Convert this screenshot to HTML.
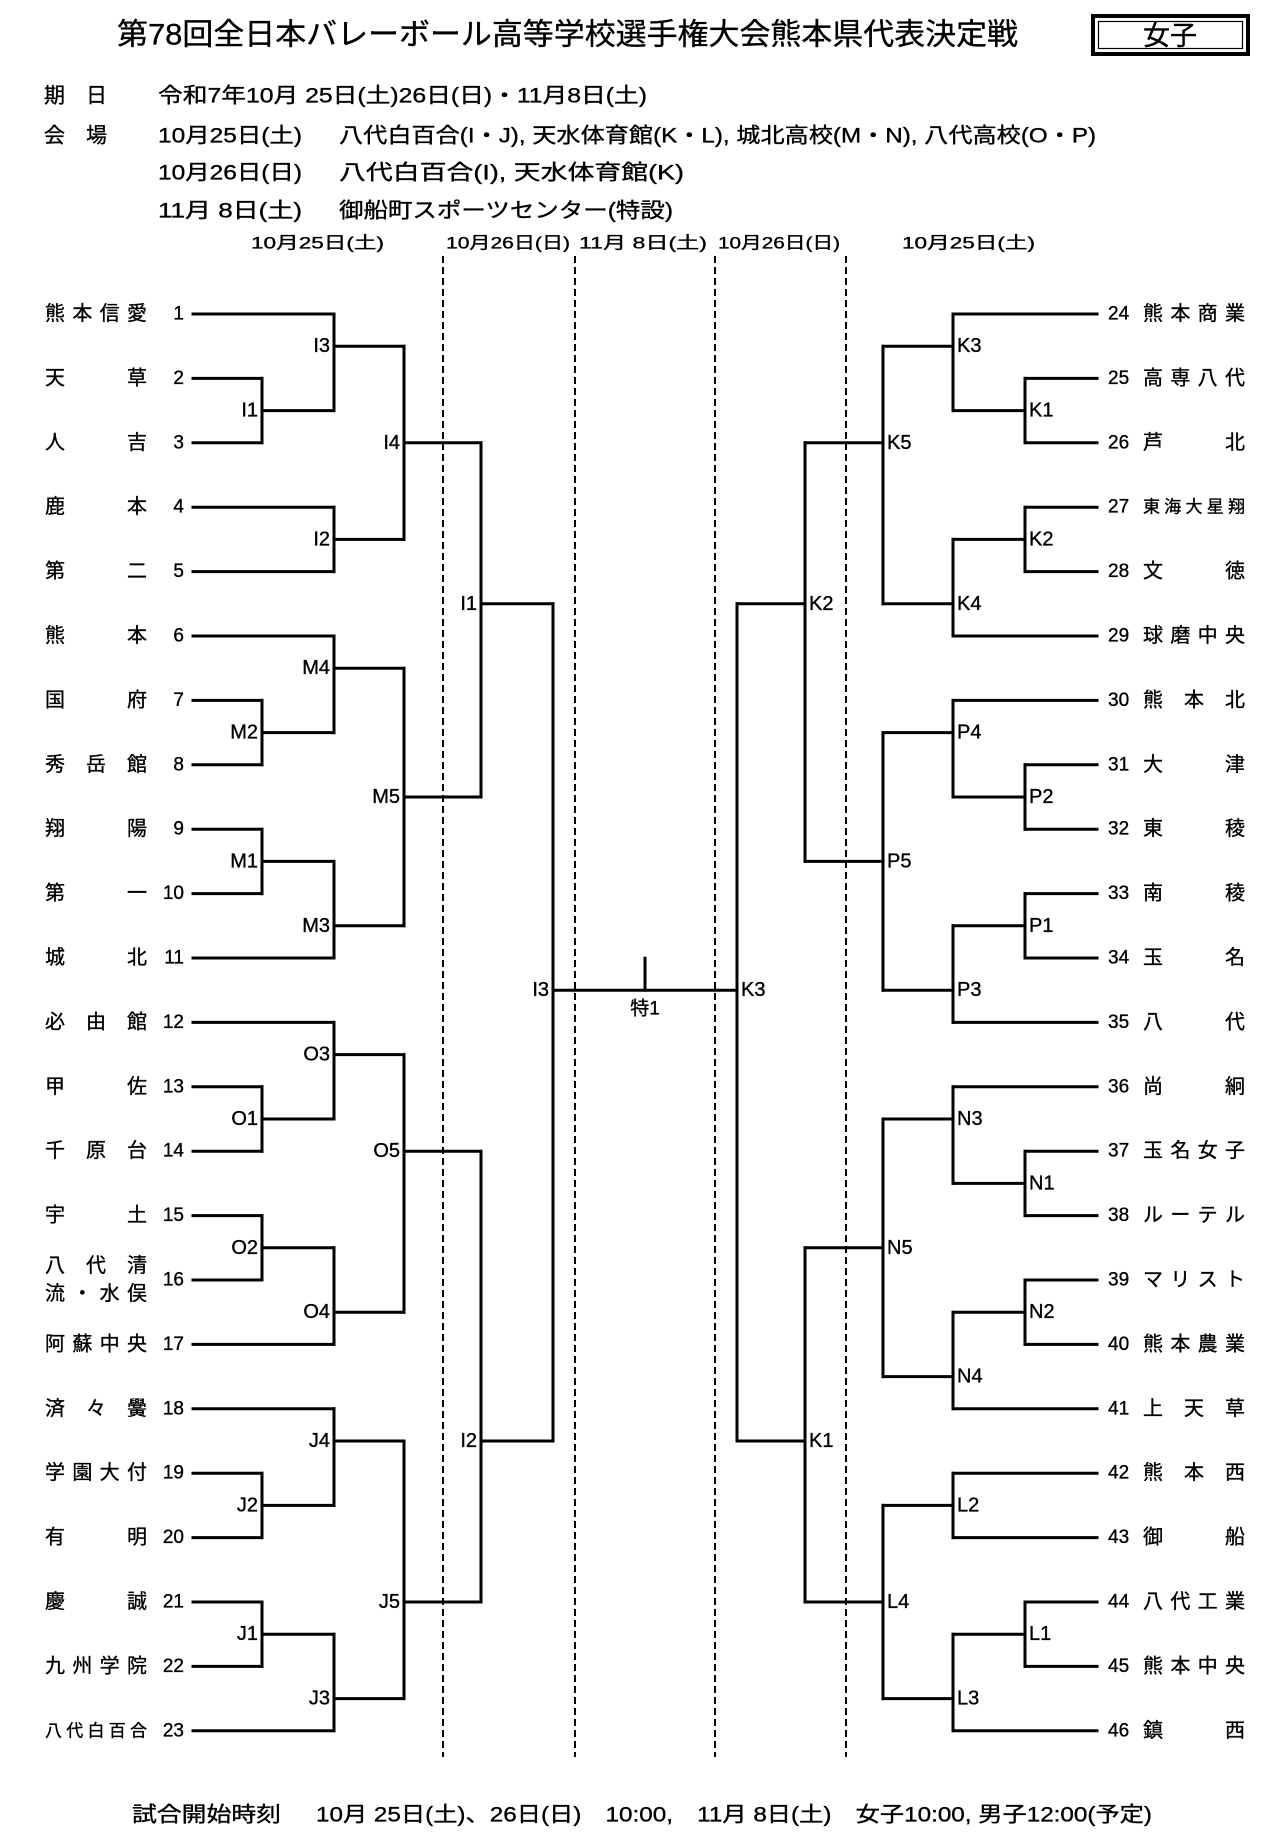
<!DOCTYPE html>
<html><head><meta charset="utf-8">
<style>
html,body{margin:0;padding:0;background:#fff;}
svg{display:block;}
text{font-family:"Liberation Sans","Noto Sans CJK JP",sans-serif;fill:#000;stroke:#000;stroke-width:0.35px;}
</style></head>
<body>
<svg id="s" width="1287" height="1842" viewBox="0 0 1287 1842" xmlns="http://www.w3.org/2000/svg">
<text x="117" y="35" font-size="30" dominant-baseline="central" textLength="901" lengthAdjust="spacingAndGlyphs">第78回全日本バレーボール高等学校選手権大会熊本県代表決定戦</text>
<rect x="1093" y="16" width="155" height="38" fill="none" stroke="#000" stroke-width="4"/>
<rect x="1098.5" y="21.5" width="144" height="27" fill="none" stroke="#000" stroke-width="1.2"/>
<text x="1170" y="36" font-size="27" text-anchor="middle" dominant-baseline="central">女子</text>

<text x="44" y="96" font-size="21" dominant-baseline="central">期　日</text>
<text x="158" y="96" font-size="21" dominant-baseline="central" textLength="489" lengthAdjust="spacingAndGlyphs">令和7年10月 25日(土)26日(日)・11月8日(土)</text>
<text x="44" y="136" font-size="21" dominant-baseline="central">会　場</text>
<text x="158" y="136" font-size="21" dominant-baseline="central" textLength="144" lengthAdjust="spacingAndGlyphs">10月25日(土)</text>
<text x="339" y="136" font-size="21" dominant-baseline="central" textLength="757" lengthAdjust="spacingAndGlyphs">八代白百合(I・J), 天水体育館(K・L), 城北高校(M・N), 八代高校(O・P)</text>
<text x="158" y="173" font-size="21" dominant-baseline="central" textLength="144" lengthAdjust="spacingAndGlyphs">10月26日(日)</text>
<text x="339" y="173" font-size="21" dominant-baseline="central" textLength="345" lengthAdjust="spacingAndGlyphs">八代白百合(I), 天水体育館(K)</text>
<text x="158" y="211" font-size="21" dominant-baseline="central" textLength="144" lengthAdjust="spacingAndGlyphs">11月 8日(土)</text>
<text x="339" y="211" font-size="21" dominant-baseline="central" textLength="334" lengthAdjust="spacingAndGlyphs">御船町スポーツセンター(特設)</text>

<text x="251" y="243" font-size="17" dominant-baseline="central" textLength="133" lengthAdjust="spacingAndGlyphs">10月25日(土)</text>
<text x="446" y="243" font-size="17" dominant-baseline="central" textLength="124" lengthAdjust="spacingAndGlyphs">10月26日(日)</text>
<text x="579" y="243" font-size="17" dominant-baseline="central" textLength="128" lengthAdjust="spacingAndGlyphs">11月 8日(土)</text>
<text x="718" y="243" font-size="17" dominant-baseline="central" textLength="122" lengthAdjust="spacingAndGlyphs">10月26日(日)</text>
<text x="902" y="243" font-size="17" dominant-baseline="central" textLength="133" lengthAdjust="spacingAndGlyphs">10月25日(土)</text>

<text x="132" y="1815" font-size="21" dominant-baseline="central" textLength="149" lengthAdjust="spacingAndGlyphs">試合開始時刻</text>
<text x="316" y="1815" font-size="21" dominant-baseline="central" textLength="836" lengthAdjust="spacingAndGlyphs">10月 25日(土)、26日(日)　10:00,　11月 8日(土)　女子10:00, 男子12:00(予定)</text>
<g id="g"></g>
</svg>
<script>
(function(){
var NS="http://www.w3.org/2000/svg",g=document.getElementById("g");
function Y(r){return 314+(r-1)*64.4;}
function el(n,a,t){var e=document.createElementNS(NS,n);for(var k in a)e.setAttribute(k,a[k]);if(t!=null)e.textContent=t;g.appendChild(e);return e;}
function line(x1,y1,x2,y2){el("line",{x1:x1,y1:y1,x2:x2,y2:y2,stroke:"#000","stroke-width":3,"stroke-linecap":"square"});}
function txt(x,y,s,fs,anchor){return el("text",{x:x,y:y,"font-size":fs,"text-anchor":anchor||"start","dominant-baseline":"central"},s);}
function name(x0,W,y,s,fs){var c=Array.from(s),n=c.length;
 if(n==1){txt(x0,y,s,fs);return;}
 var step=(W-fs)/(n-1);if(step<fs)step=fs;
 for(var i=0;i<n;i++)txt(x0+i*step,y,c[i],fs);}
[443,575,715,846].forEach(function(x){el("line",{x1:x,y1:256,x2:x,y2:1757,stroke:"#000","stroke-width":2,"stroke-dasharray":"7,4"});});
var L=[193,262,334,404,481,553],R=[737,805,883,953,1025,1097];
var left=["熊本信愛","天草","人吉","鹿本","第二","熊本","国府","秀岳館","翔陽","第一","城北","必由館","甲佐","千原台","宇土","","阿蘇中央","済々黌","学園大付","有明","慶誠","九州学院","八代白百合"];
var right=["熊本商業","高専八代","芦北","東海大星翔","文徳","球磨中央","熊本北","大津","東稜","南稜","玉名","八代","尚絅","玉名女子","ルーテル","マリスト","熊本農業","上天草","熊本西","御船","八代工業","熊本中央","鎮西"];
var lv=[2,1,1,2,2,2,1,1,1,1,2,2,1,1,1,1,2,2,1,1,1,1,2];
var rv=[2,1,1,1,1,2,2,1,1,1,1,2,2,1,1,1,1,2,2,2,1,1,2];
for(var i=0;i<23;i++){var y=Y(i+1);
 txt(184,y,String(i+1),19,"end");
 line(L[0],y,L[lv[i]],y);
 var s=left[i];
 if(i==15){name(45,102,y-14,"八代清",20);name(45,102,y+14,"流・水俣",20);}
 else if(s=="八代白百合")name(45,102,y,s,17);
 else name(45,102,y,s,20);
 txt(1108,y,String(i+24),19,"start");
 line(R[5],y,R[5-rv[i]],y);
 var t=right[i];
 if(t=="東海大星翔")name(1143,102,y,t,17);else name(1143,102,y,t,20);
}
var LM=[["I1",1,2,3,2.5,2],["I3",2,1,2.5,1.5,3],["I2",2,4,5,4.5,3],["I4",3,1.5,4.5,3,4],
["M2",1,7,8,7.5,2],["M4",2,6,7.5,6.5,3],["M1",1,9,10,9.5,2],["M3",2,9.5,11,10.5,3],["M5",3,6.5,10.5,8.5,4],
["I1",4,3,8.5,5.5,5],["O1",1,13,14,13.5,2],["O3",2,12,13.5,12.5,3],["O2",1,15,16,15.5,2],["O4",2,15.5,17,16.5,3],
["O5",3,12.5,16.5,14,4],["J2",1,19,20,19.5,2],["J4",2,18,19.5,18.5,3],["J1",1,21,22,21.5,2],["J3",2,21.5,23,22.5,3],
["J5",3,18.5,22.5,21,4],["I2",4,14,21,18.5,5],["I3",5,5.5,18.5,11.5,-1]];
LM.forEach(function(m){var x=L[m[1]];line(x,Y(m[2]),x,Y(m[3]));
 var xo=m[5]<0?R[0]:L[m[5]];line(x,Y(m[4]),xo,Y(m[4]));txt(x-4,Y(m[4]),m[0],20,"end");});
function rx(k){return R[5-k];}
var RM=[["K1",1,2,3,2.5,2],["K3",2,1,2.5,1.5,3],["K2",1,4,5,4.5,2],["K4",2,4.5,6,5.5,3],["K5",3,1.5,5.5,3,4],
["P2",1,8,9,8.5,2],["P4",2,7,8.5,7.5,3],["P1",1,10,11,10.5,2],["P3",2,10.5,12,11.5,3],["P5",3,7.5,11.5,9.5,4],
["K2",4,3,9.5,5.5,5],["N1",1,14,15,14.5,2],["N3",2,13,14.5,13.5,3],["N2",1,16,17,16.5,2],["N4",2,16.5,18,17.5,3],
["N5",3,13.5,17.5,15.5,4],["L2",2,19,20,19.5,3],["L1",1,21,22,21.5,2],["L3",2,21.5,23,22.5,3],["L4",3,19.5,22.5,21,4],
["K1",4,15.5,21,18.5,5],["K3",5,5.5,18.5,11.5,-1]];
RM.forEach(function(m){var x=rx(m[1]);line(x,Y(m[2]),x,Y(m[3]));
 if(m[5]>0)line(x,Y(m[4]),rx(m[5]),Y(m[4]));txt(x+4,Y(m[4]),m[0],20,"start");});
var cy=Y(11.5);
line(645,cy-32,645,cy);
txt(645,cy+19,"特1",19,"middle");
})();
</script>
</body></html>
